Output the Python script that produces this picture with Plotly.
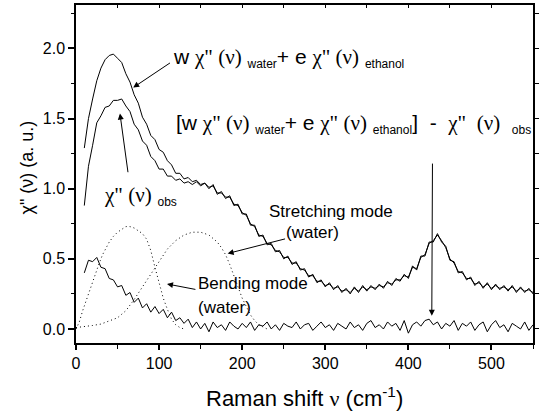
import plotly.graph_objects as go

# ---------------- data ----------------
x_main = list(range(10, 551, 5))

sum_curve = [1.29, 1.50, 1.64, 1.77, 1.86, 1.92, 1.95, 1.96, 1.93, 1.90,
             1.82, 1.76, 1.67, 1.61, 1.51, 1.46, 1.38, 1.35, 1.28, 1.26,
             1.20, 1.17, 1.11, 1.11, 1.07, 1.08, 1.05, 1.06, 1.03, 1.04,
             1.01, 1.02, 0.97, 0.97, 0.94, 0.94, 0.89, 0.88, 0.83, 0.81,
             0.75, 0.73, 0.67, 0.66, 0.61, 0.60, 0.56, 0.55, 0.51, 0.51,
             0.47, 0.47, 0.43, 0.42, 0.38, 0.38, 0.34, 0.34, 0.31, 0.32,
             0.29, 0.30, 0.27, 0.28, 0.26, 0.29, 0.27, 0.30, 0.28, 0.30,
             0.29, 0.31, 0.30, 0.33, 0.32, 0.35, 0.35, 0.38, 0.37, 0.44,
             0.43, 0.51, 0.53, 0.61, 0.63, 0.67, 0.63, 0.58, 0.50, 0.47,
             0.41, 0.40, 0.36, 0.36, 0.32, 0.33, 0.30, 0.32, 0.29, 0.31,
             0.29, 0.30, 0.28, 0.30, 0.27, 0.29, 0.27, 0.28, 0.26]

obs_curve = [0.88, 1.16, 1.31, 1.47, 1.52, 1.58, 1.59, 1.63, 1.63, 1.64,
             1.59, 1.55, 1.46, 1.42, 1.34, 1.31, 1.23, 1.20, 1.14, 1.14,
             1.09, 1.09, 1.06, 1.07, 1.04, 1.05, 1.03, 1.05, 1.02, 1.04,
             1.00, 1.03, 0.96, 0.98, 0.93, 0.95, 0.88, 0.89, 0.82, 0.82,
             0.74, 0.74, 0.66, 0.67, 0.60, 0.61, 0.55, 0.56, 0.50, 0.52,
             0.46, 0.48, 0.42, 0.43, 0.37, 0.39, 0.33, 0.35, 0.30, 0.33,
             0.28, 0.31, 0.26, 0.29, 0.25, 0.30, 0.26, 0.31, 0.27, 0.31,
             0.28, 0.32, 0.29, 0.34, 0.31, 0.36, 0.34, 0.39, 0.36, 0.45,
             0.42, 0.52, 0.52, 0.62, 0.62, 0.68, 0.62, 0.59, 0.49, 0.48,
             0.40, 0.41, 0.35, 0.37, 0.31, 0.34, 0.29, 0.33, 0.28, 0.32,
             0.28, 0.31, 0.27, 0.31, 0.26, 0.30, 0.26, 0.29, 0.25]

diff_curve = [0.40, 0.49, 0.48, 0.51, 0.44, 0.43, 0.36, 0.35, 0.30, 0.31,
              0.24, 0.26, 0.19, 0.22, 0.15, 0.18, 0.12, 0.16, 0.11, 0.14,
              0.08, 0.12, 0.06, 0.08, 0.04, 0.07, 0.01, 0.05, 0.00, 0.04,
              -0.02, 0.05, 0.01, 0.03, -0.01, 0.05, 0.02, 0.00, 0.04, 0.01,
              0.05, -0.01, 0.03, 0.02, 0.05, 0.00, 0.03, -0.01, 0.04, 0.02,
              0.01, 0.05, 0.00, 0.03, 0.04, -0.01, 0.02, 0.05, 0.01, 0.03,
              -0.01, 0.04, 0.02, 0.00, 0.05, 0.01, 0.03, -0.01, 0.04, 0.06,
              0.01, 0.03, 0.00, 0.05, 0.02, 0.04, -0.01, 0.06, -0.03, 0.03,
              0.05, 0.02, 0.06, 0.07, 0.03, 0.05, 0.00, 0.04, 0.02, 0.06,
              -0.01, 0.04, 0.02, 0.05, -0.01, 0.03, 0.05, -0.02, 0.03, 0.06,
              0.01, 0.03, -0.02, 0.04, 0.02, 0.00, 0.05, -0.01, 0.03]

x_bend = [0, 4, 8, 12, 16, 20, 24, 28, 32, 36, 40, 45, 50, 55, 60, 65, 70,
          75, 80, 85, 90, 95, 100, 105, 110, 115, 120, 125, 130]
bend_mode = [0.0, 0.05, 0.13, 0.20, 0.27, 0.34, 0.41, 0.47, 0.53, 0.58, 0.62,
             0.66, 0.69, 0.71, 0.73, 0.73, 0.72, 0.70, 0.68, 0.64, 0.56, 0.44,
             0.33, 0.22, 0.14, 0.07, 0.03, 0.01, 0.0]

x_stretch = [0, 10, 20, 30, 40, 50, 60, 70, 80, 90, 100, 110, 120, 130, 140,
             150, 160, 170, 175, 180, 185, 190, 195, 200, 205, 210, 215, 220,
             225, 230]
stretch_mode = [0.01, 0.015, 0.025, 0.035, 0.055, 0.08, 0.13, 0.21, 0.30,
                0.39, 0.48, 0.57, 0.63, 0.67, 0.69, 0.69, 0.67, 0.62, 0.58,
                0.53, 0.46, 0.38, 0.30, 0.22, 0.16, 0.10, 0.06, 0.03, 0.015,
                0.0]

x_ticks = [0, 100, 200, 300, 400, 500]
y_ticks = [0.0, 0.5, 1.0, 1.5, 2.0]

# ---------------- figure ----------------
SANS = "Liberation Sans, Arial, sans-serif"
SER = '<span style="font-family:Liberation Serif">'
chi = SER + 'χ" (ν)</span>'
NB = "\u00a0"


def sub(t):
    return '<sub><span style="font-size:12px">' + t + '</span></sub>'


fig = go.Figure()
line_solid = dict(color="black", width=1)
fig.add_trace(go.Scatter(x=x_main, y=sum_curve, mode="lines", line=line_solid, showlegend=False))
fig.add_trace(go.Scatter(x=x_main, y=obs_curve, mode="lines", line=line_solid, showlegend=False))
fig.add_trace(go.Scatter(x=x_main, y=diff_curve, mode="lines", line=line_solid, showlegend=False))
dotted = dict(color="black", width=1, dash="1px,3px")
fig.add_trace(go.Scatter(x=x_bend, y=bend_mode, mode="lines", line=dotted, showlegend=False))
fig.add_trace(go.Scatter(x=x_stretch, y=stretch_mode, mode="lines", line=dotted, showlegend=False))
# empty trace to activate the mirror axes (top / right tick marks)
fig.add_trace(go.Scatter(x=[None], y=[None], xaxis="x2", yaxis="y2", showlegend=False, hoverinfo="skip"))

XR = [0, 550]
YR = [-0.1, 2.31]

fig.update_layout(
    width=539, height=412, autosize=False,
    margin=dict(l=76, r=6, t=5, b=69, autoexpand=False),
    paper_bgcolor="white", plot_bgcolor="white",
    font=dict(family=SANS, color="black", size=16),
    xaxis=dict(range=XR, showgrid=False, zeroline=False, showline=True, automargin=False,
               linecolor="black", linewidth=1.5, ticks="outside", ticklen=5,
               tickwidth=1.5, tickcolor="black", tickvals=x_ticks,
               ticktext=[str(v) for v in x_ticks],
               tickfont=dict(size=16, family=SANS),
               minor=dict(ticks="outside", ticklen=4, tickwidth=1, tickcolor="black", dtick=50, tick0=0)),
    yaxis=dict(range=YR, showgrid=False, zeroline=False, showline=True, automargin=False,
               linecolor="black", linewidth=1.5, ticks="outside", ticklen=6,
               tickwidth=1.5, tickcolor="black", tickvals=y_ticks,
               ticktext=["%.1f" % v for v in y_ticks],
               tickfont=dict(size=16, family=SANS),
               minor=dict(ticks="outside", ticklen=3, tickwidth=1, tickcolor="black", dtick=0.25, tick0=0)),
    xaxis2=dict(range=XR, overlaying="x", side="top", showgrid=False, zeroline=False, automargin=False,
                showline=True, linecolor="black", linewidth=1.5, ticks="inside", ticklen=3,
                tickwidth=1, tickcolor="black", dtick=50, tick0=0, showticklabels=False),
    yaxis2=dict(range=YR, overlaying="y", side="right", showgrid=False, zeroline=False, automargin=False,
                showline=True, linecolor="black", linewidth=1.5, ticks="outside", ticklen=4,
                tickwidth=1, tickcolor="black", dtick=0.25, tick0=0, showticklabels=False),
)

ann = []
# axis titles
ann.append(dict(x=0.499, y=-0.16, xref="paper", yref="paper", showarrow=False,
                xanchor="center", yanchor="middle",
                text='Raman shift ' + SER + 'ν</span> (cm<sup>-1</sup>)',
                font=dict(size=22, family=SANS, color="black")))
ann.append(dict(x=-0.108, y=0.518, xref="paper", yref="paper", showarrow=False,
                xanchor="center", yanchor="middle", textangle=-90,
                text='χ" (ν) (a. u.)',
                font=dict(size=18, family=SANS, color="black")))

LBL = dict(size=21, family=SANS, color="black")
ann.append(dict(x=114, y=1.935, xref="x", yref="y", showarrow=False, xanchor="left", yanchor="middle",
                text='w ' + chi + ' ' + sub('water') + '+ e ' + chi + ' ' + sub('ethanol'), font=LBL))
ann.append(dict(x=118, y=1.465, xref="x", yref="y", showarrow=False, xanchor="left", yanchor="middle",
                text='[w ' + chi + ' ' + sub('water') + '+ e ' + chi + ' ' + sub('ethanol') + ']'
                     + NB + NB + '-' + NB + NB + SER + 'χ"' + NB + ' (ν)</span>' + NB + ' ' + sub('obs'),
                font=LBL))
ann.append(dict(x=31, y=0.945, xref="x", yref="y", showarrow=False, xanchor="left", yanchor="middle",
                text=chi + ' ' + sub('obs'), font=LBL))
SM = dict(size=17, family=SANS, color="black")
ann.append(dict(x=229.5, y=0.84, xref="x", yref="y", showarrow=False, xanchor="left", yanchor="middle",
                text="Stretching mode", font=SM))
ann.append(dict(x=250, y=0.69, xref="x", yref="y", showarrow=False, xanchor="left", yanchor="middle",
                text="(water)", font=SM))
ann.append(dict(x=144, y=0.325, xref="x", yref="y", showarrow=False, xanchor="left", yanchor="middle",
                text="Bending mode", font=SM))
ann.append(dict(x=144, y=0.155, xref="x", yref="y", showarrow=False, xanchor="left", yanchor="middle",
                text="(water)", font=SM))

arrows = [
    ((114.9, 1.904), (68.8, 1.721)),
    ((62.8, 1.107), (52.9, 1.536)),
    ((429.0, 1.19), (428.2, 0.095)),
    ((253.4, 0.645), (182.5, 0.538)),
    ((145.5, 0.280), (109.5, 0.321)),
]
for (tx, ty), (hx, hy) in arrows:
    ann.append(dict(x=hx, y=hy, ax=tx, ay=ty, xref="x", yref="y", axref="x", ayref="y",
                    text="", showarrow=True, arrowhead=2, arrowsize=1.2, arrowwidth=1,
                    arrowcolor="black", standoff=0, startstandoff=0))

fig.update_layout(annotations=ann)

fig.write_html("out.html", config={"displayModeBar": False},
               post_script="document.body.style.margin='0';document.body.style.padding='0';"
                           "document.documentElement.style.overflow='hidden';")
